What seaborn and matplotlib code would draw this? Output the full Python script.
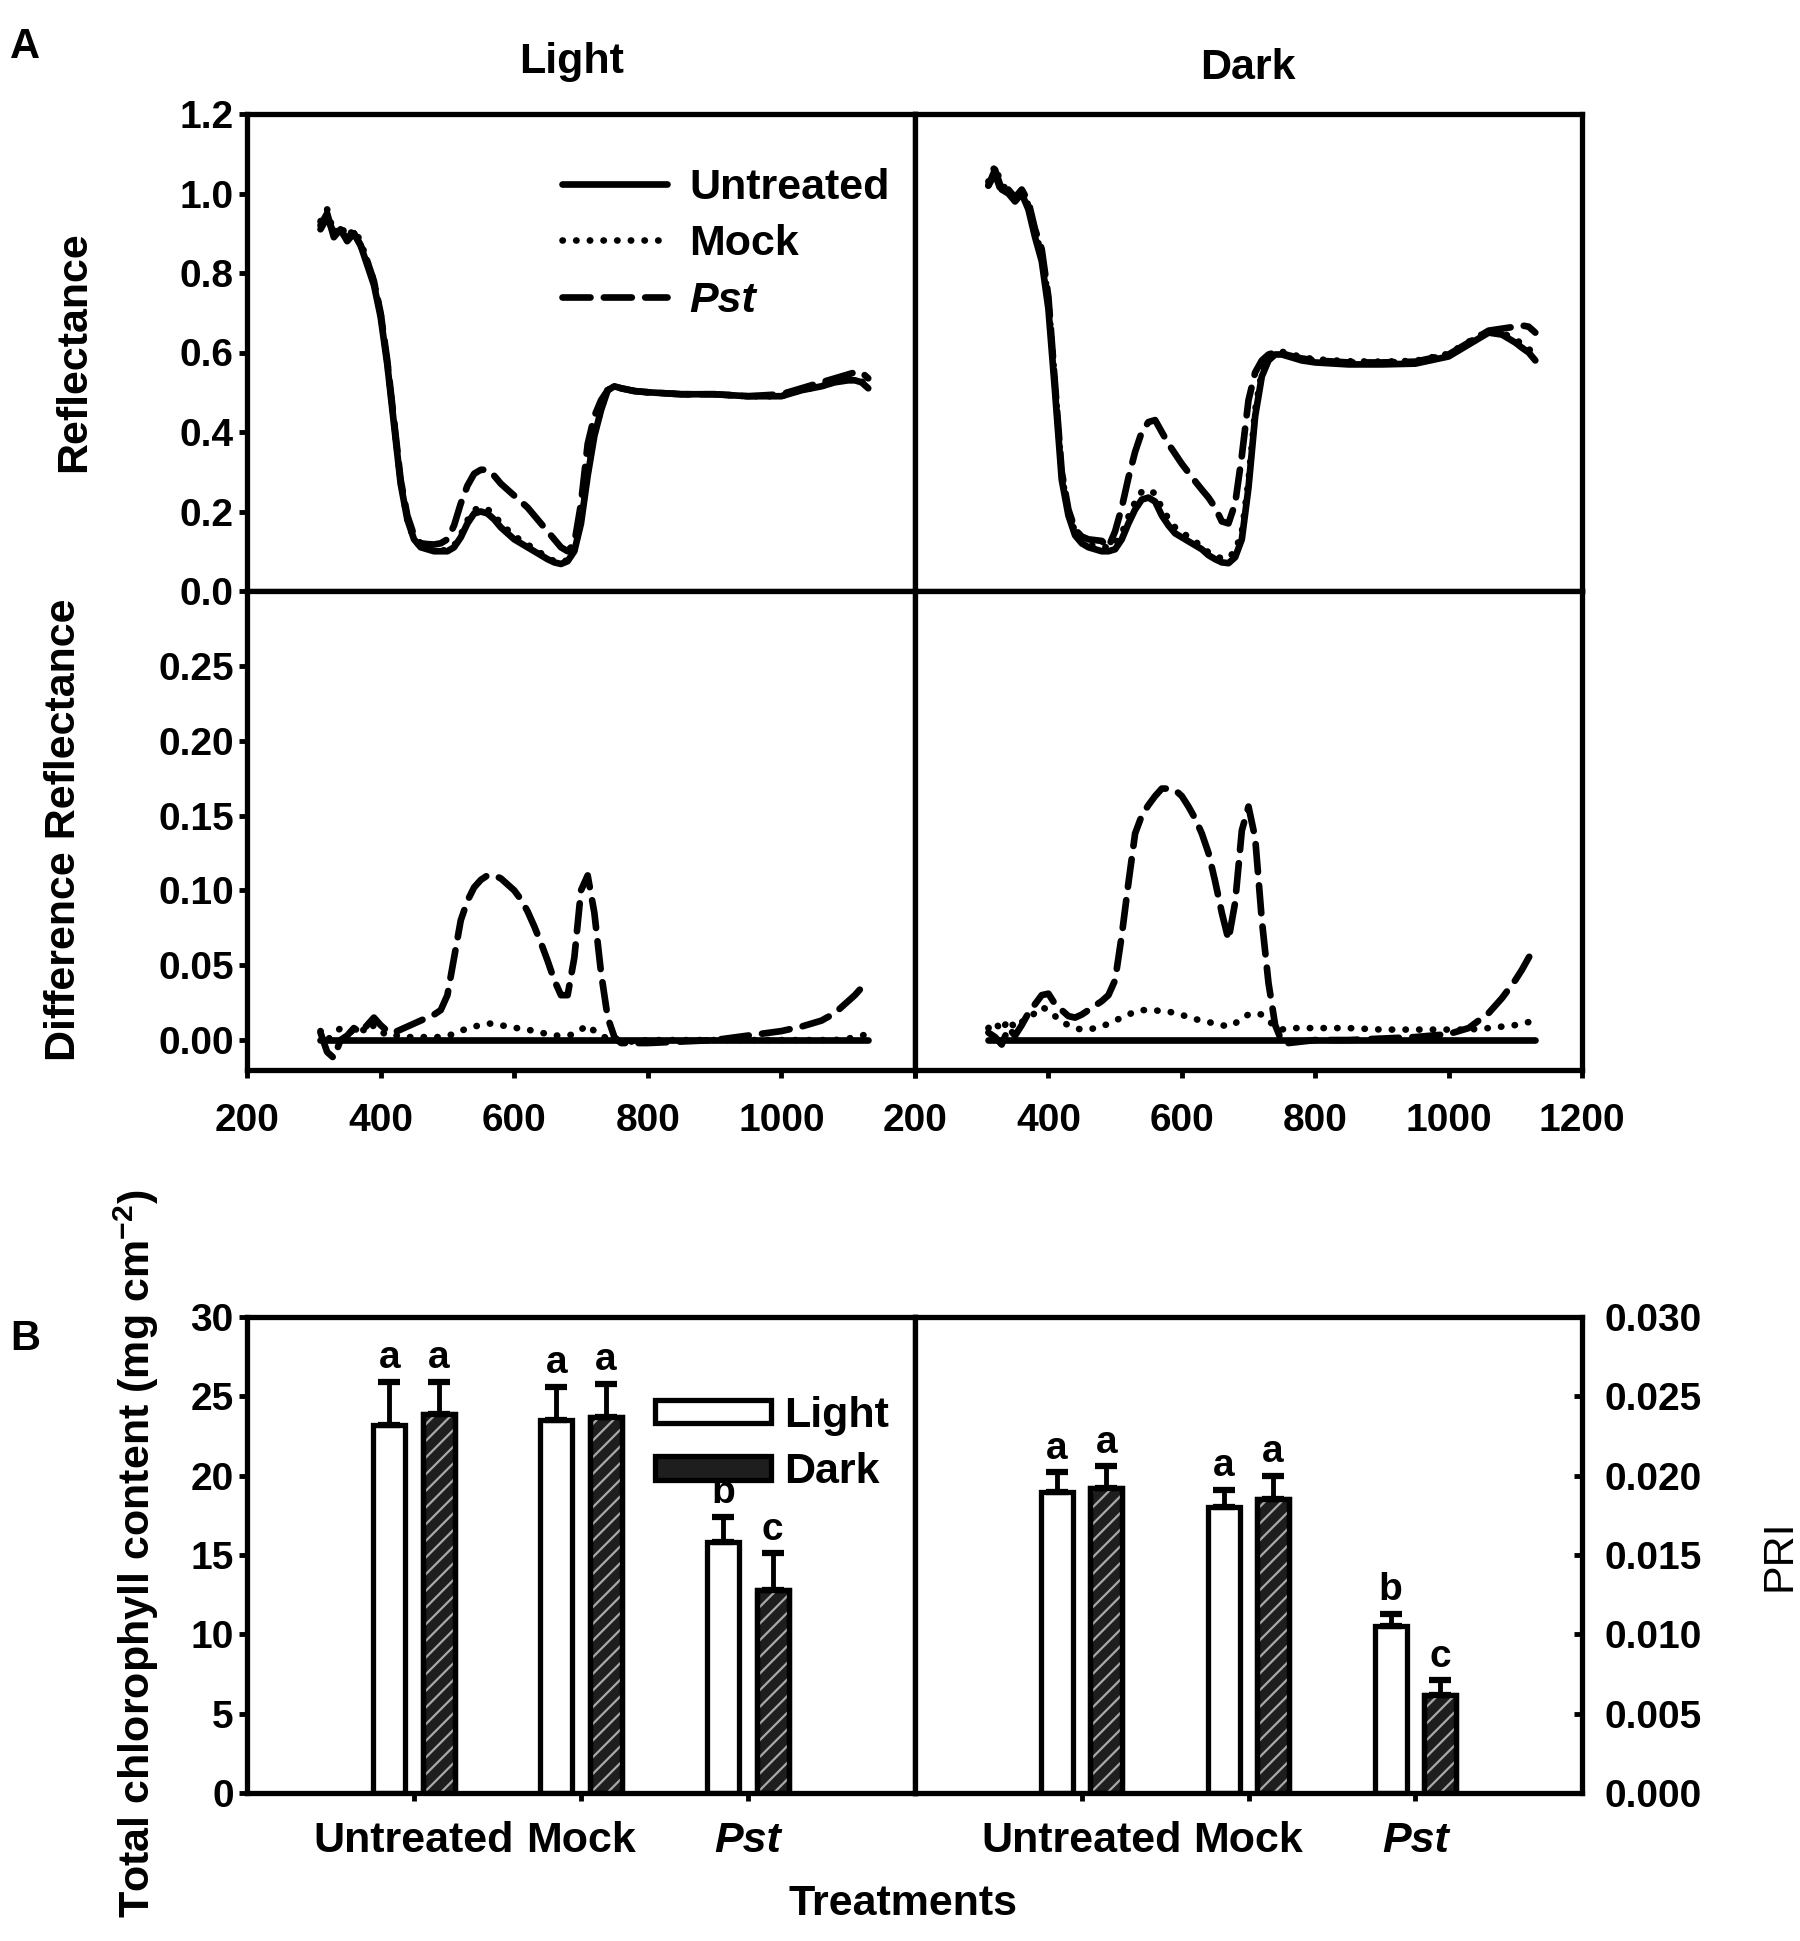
import numpy as np
import pandas as pd
import matplotlib.pyplot as plt
from matplotlib.lines import Line2D
from matplotlib.patches import Patch, Rectangle
from matplotlib.ticker import FormatStrFormatter
import seaborn as sns

# ---------------- data ----------------
wavelength = [310, 320, 330, 340, 350, 360, 370, 380, 390, 400,
              410, 420, 430, 440, 450, 460, 470, 480, 490, 500,
              510, 520, 530, 540, 550, 560, 570, 580, 590, 600,
              610, 620, 630, 640, 650, 660, 670, 680, 690, 700,
              710, 720, 730, 740, 750, 760, 780, 800, 850, 900,
              950, 1000, 1030, 1060, 1080, 1100, 1110, 1120, 1130]

# Panel A, reflectance (Light)
refl_light_untreated = [0.92, 0.95, 0.89, 0.91, 0.88, 0.90, 0.87, 0.82, 0.77, 0.69,
                        0.57, 0.42, 0.27, 0.18, 0.13, 0.11, 0.105, 0.10, 0.10, 0.10,
                        0.11, 0.135, 0.17, 0.195, 0.20, 0.195, 0.18, 0.16, 0.145, 0.13,
                        0.12, 0.11, 0.10, 0.09, 0.08, 0.072, 0.068, 0.075, 0.10, 0.17,
                        0.29, 0.39, 0.455, 0.505, 0.515, 0.51, 0.503, 0.50, 0.495, 0.495,
                        0.49, 0.49, 0.505, 0.515, 0.525, 0.53, 0.53, 0.525, 0.51]
refl_light_mock = [0.93, 0.96, 0.90, 0.92, 0.89, 0.91, 0.88, 0.83, 0.78, 0.70,
                   0.575, 0.425, 0.275, 0.18, 0.13, 0.112, 0.107, 0.102, 0.102, 0.103,
                   0.114, 0.141, 0.178, 0.204, 0.21, 0.206, 0.191, 0.17, 0.154, 0.138,
                   0.128, 0.117, 0.106, 0.095, 0.084, 0.075, 0.071, 0.078, 0.104, 0.177,
                   0.30, 0.396, 0.458, 0.506, 0.515, 0.51, 0.503, 0.50, 0.495, 0.495,
                   0.49, 0.49, 0.505, 0.515, 0.526, 0.532, 0.533, 0.528, 0.514]
refl_light_pst = [0.91, 0.94, 0.90, 0.90, 0.89, 0.90, 0.87, 0.83, 0.78, 0.70,
                  0.58, 0.43, 0.28, 0.19, 0.14, 0.12, 0.118, 0.117, 0.12, 0.13,
                  0.165, 0.22, 0.265, 0.295, 0.305, 0.305, 0.29, 0.27, 0.255, 0.24,
                  0.225, 0.21, 0.19, 0.17, 0.15, 0.13, 0.11, 0.10, 0.12, 0.22,
                  0.37, 0.44, 0.48, 0.505, 0.515, 0.51, 0.503, 0.50, 0.495, 0.495,
                  0.49, 0.495, 0.51, 0.525, 0.535, 0.545, 0.55, 0.55, 0.535]

# Panel A, reflectance (Dark)
refl_dark_untreated = [1.02, 1.06, 1.01, 1.00, 0.98, 1.00, 0.96, 0.89, 0.83, 0.71,
                       0.50, 0.28, 0.19, 0.14, 0.12, 0.11, 0.105, 0.10, 0.10, 0.105,
                       0.13, 0.17, 0.205, 0.23, 0.235, 0.225, 0.19, 0.165, 0.145, 0.135,
                       0.125, 0.115, 0.105, 0.09, 0.08, 0.072, 0.07, 0.085, 0.13, 0.26,
                       0.44, 0.54, 0.58, 0.595, 0.595, 0.59, 0.58, 0.575, 0.57, 0.57,
                       0.572, 0.59, 0.62, 0.65, 0.645, 0.625, 0.612, 0.60, 0.58]
refl_dark_mock = [1.03, 1.07, 1.02, 1.01, 0.99, 1.01, 0.97, 0.90, 0.85, 0.73,
                  0.52, 0.29, 0.20, 0.148, 0.127, 0.117, 0.113, 0.109, 0.111, 0.118,
                  0.145, 0.187, 0.224, 0.25, 0.255, 0.245, 0.209, 0.182, 0.16, 0.148,
                  0.136, 0.124, 0.113, 0.097, 0.088, 0.082, 0.083, 0.101, 0.148, 0.278,
                  0.456, 0.552, 0.588, 0.60, 0.602, 0.598, 0.588, 0.583, 0.578, 0.577,
                  0.579, 0.597, 0.627, 0.655, 0.65, 0.633, 0.622, 0.61, 0.59]
refl_dark_pst = [1.02, 1.05, 1.00, 1.01, 0.99, 1.01, 0.98, 0.91, 0.86, 0.74,
                 0.52, 0.30, 0.205, 0.155, 0.137, 0.13, 0.128, 0.126, 0.11, 0.15,
                 0.21, 0.285, 0.35, 0.40, 0.425, 0.43, 0.40, 0.37, 0.345, 0.32,
                 0.298, 0.276, 0.255, 0.235, 0.21, 0.175, 0.17, 0.22, 0.34, 0.48,
                 0.55, 0.58, 0.595, 0.60, 0.598, 0.593, 0.585, 0.58, 0.575, 0.575,
                 0.577, 0.595, 0.625, 0.655, 0.66, 0.665, 0.668, 0.665, 0.65]

# Panel A, difference reflectance (untreated is the zero baseline)
diff_untreated = [0.0] * len(wavelength)
diff_light_mock = [0.006, 0.0, 0.004, 0.008, 0.005, 0.006, 0.008, 0.005, 0.010, 0.006,
                   0.003, 0.003, 0.003, 0.002, 0.002, 0.002, 0.002, 0.002, 0.002, 0.003,
                   0.004, 0.006, 0.008, 0.009, 0.010, 0.011, 0.011, 0.010, 0.009, 0.008,
                   0.008, 0.007, 0.006, 0.005, 0.004, 0.003, 0.003, 0.003, 0.004, 0.007,
                   0.010, 0.006, 0.003, 0.001, 0.0, -0.001, -0.001, 0.0, 0.0, 0.0,
                   0.0, 0.0, 0.0, 0.0, 0.0, 0.001, 0.002, 0.003, 0.004]
diff_light_pst = [0.005, -0.008, -0.012, 0.0, 0.003, 0.008, 0.005, 0.010, 0.015, 0.010,
                  0.006, 0.005, 0.007, 0.009, 0.011, 0.013, 0.015, 0.017, 0.020, 0.030,
                  0.055, 0.080, 0.093, 0.102, 0.107, 0.110, 0.110, 0.108, 0.104, 0.100,
                  0.094, 0.086, 0.076, 0.065, 0.053, 0.040, 0.030, 0.030, 0.055, 0.100,
                  0.110, 0.085, 0.045, 0.015, 0.002, -0.002, -0.002, -0.002, -0.001, 0.0,
                  0.003, 0.006, 0.009, 0.013, 0.018, 0.026, 0.030, 0.035, 0.039]
diff_dark_mock = [0.008, 0.012, 0.006, 0.014, 0.008, 0.012, 0.015, 0.018, 0.022, 0.020,
                  0.016, 0.012, 0.010, 0.008, 0.007, 0.007, 0.008, 0.009, 0.011, 0.013,
                  0.015, 0.017, 0.019, 0.020, 0.020, 0.020, 0.019, 0.019, 0.018, 0.017,
                  0.015, 0.014, 0.013, 0.012, 0.011, 0.010, 0.009, 0.011, 0.015, 0.017,
                  0.018, 0.017, 0.013, 0.009, 0.007, 0.008, 0.008, 0.008, 0.008, 0.007,
                  0.007, 0.007, 0.007, 0.008, 0.009, 0.010, 0.011, 0.012, 0.012]
diff_dark_pst = [0.005, 0.002, -0.003, 0.008, 0.003, 0.010, 0.018, 0.024, 0.030, 0.031,
                 0.024, 0.020, 0.016, 0.015, 0.017, 0.020, 0.023, 0.026, 0.030, 0.040,
                 0.070, 0.105, 0.138, 0.150, 0.157, 0.163, 0.168, 0.168, 0.167, 0.163,
                 0.156, 0.148, 0.138, 0.125, 0.106, 0.085, 0.067, 0.092, 0.140, 0.156,
                 0.135, 0.080, 0.038, 0.010, -0.001, -0.002, -0.001, 0.0, 0.0, 0.001,
                 0.002, 0.004, 0.008, 0.018, 0.028, 0.040, 0.047, 0.055, 0.062]

# Panel B
treatments = ['Untreated', 'Mock', 'Pst']
chl_light = [23.2, 23.5, 15.8]
chl_light_err = [2.7, 2.1, 1.6]
chl_dark = [23.9, 23.7, 12.8]
chl_dark_err = [2.0, 2.1, 2.3]
pri_light = [0.0190, 0.0180, 0.0105]
pri_light_err = [0.0012, 0.0011, 0.0008]
pri_dark = [0.0192, 0.0185, 0.0062]
pri_dark_err = [0.0014, 0.0015, 0.0009]
letters_light = ['a', 'a', 'b']
letters_dark = ['a', 'a', 'c']

# ---------------- style ----------------
sns.set_style('ticks')
plt.rcParams['font.family'] = ['Liberation Sans', 'DejaVu Sans']
plt.rcParams['font.weight'] = 'bold'
plt.rcParams['text.color'] = 'black'
plt.rcParams['axes.labelcolor'] = 'black'
plt.rcParams['axes.edgecolor'] = 'black'
plt.rcParams['xtick.color'] = 'black'
plt.rcParams['ytick.color'] = 'black'
plt.rcParams['axes.linewidth'] = 3.8
plt.rcParams['lines.dash_capstyle'] = 'round'
plt.rcParams['lines.solid_capstyle'] = 'round'
plt.rcParams['hatch.linewidth'] = 1.6
plt.rcParams['mathtext.fontset'] = 'custom'
plt.rcParams['mathtext.rm'] = 'Liberation Sans:bold'
plt.rcParams['mathtext.default'] = 'rm'

W, H = 1800, 1941
fig = plt.figure(figsize=(W / 100, H / 100), dpi=100)


def box(x0, y0, x1, y1):
    return fig.add_axes([x0 / W, 1 - y1 / H, (x1 - x0) / W, (y1 - y0) / H])


LW = 4.8
dash_styles = {'Untreated': '', 'Mock': (0.05, 2.0), 'Pst': (4.2, 2.0)}


def spectra(ax, untreated, mock, pst):
    df = pd.DataFrame({
        'wl': wavelength * 3,
        'value': untreated + mock + pst,
        'treatment': ['Untreated'] * len(wavelength) + ['Mock'] * len(wavelength) + ['Pst'] * len(wavelength),
    })
    sns.lineplot(data=df, x='wl', y='value', style='treatment', style_order=treatments,
                 dashes=dash_styles, color='black', linewidth=LW, estimator=None,
                 legend=False, ax=ax)
    ax.set_xlim(200, 1200)
    ax.set_xlabel('')
    ax.set_ylabel('')
    ax.tick_params(width=3.5, length=6, labelsize=28)


axLt = box(247, 114, 915, 591)
axDt = box(915, 114, 1582, 591)
axLb = box(247, 591, 915, 1070)
axDb = box(915, 591, 1582, 1070)

spectra(axLt, refl_light_untreated, refl_light_mock, refl_light_pst)
spectra(axDt, refl_dark_untreated, refl_dark_mock, refl_dark_pst)
spectra(axLb, diff_untreated, diff_light_mock, diff_light_pst)
spectra(axDb, diff_untreated, diff_dark_mock, diff_dark_pst)

for ax in (axLt, axDt):
    ax.set_ylim(0, 1.2)
    ax.set_yticks(np.arange(0, 1.21, 0.2))
    ax.yaxis.set_major_formatter(FormatStrFormatter('%.1f'))
    ax.tick_params(axis='x', bottom=False, labelbottom=False)
for ax in (axLb, axDb):
    ax.set_ylim(-0.02, 0.30)
    ax.set_yticks(np.arange(0, 0.26, 0.05))
    ax.yaxis.set_major_formatter(FormatStrFormatter('%.2f'))
    ax.set_xticks(range(200, 1201, 200))
    ax.tick_params(axis='x', pad=18)
axLb.set_xticklabels(['200', '400', '600', '800', '1000', ''])
for ax in (axDt, axDb):
    ax.tick_params(axis='y', left=False, labelleft=False)

legend_styles = ['-', (0, dash_styles['Mock']), (0, dash_styles['Pst'])]
legend_handles = [Line2D([], [], color='black', linewidth=LW, linestyle=ls) for ls in legend_styles]
leg = fig.legend(legend_handles, treatments, loc='upper left', bbox_to_anchor=(562 / W, 1 - 168 / H),
                 frameon=False, fontsize=31, handlelength=2.45, handletextpad=0.5,
                 labelspacing=0.38, borderpad=0, borderaxespad=0)
leg.get_texts()[2].set_style('italic')

# ---------------- panel B ----------------
palette = {'Light': 'white', 'Dark': '#1e1e1e'}


def bars(ax, light, dark, light_err, dark_err):
    df = pd.DataFrame({
        'treatment': treatments * 2,
        'condition': ['Light'] * 3 + ['Dark'] * 3,
        'value': light + dark,
    })
    sns.barplot(data=df, x='treatment', y='value', hue='condition', order=treatments,
                hue_order=['Light', 'Dark'], palette=palette, saturation=1, width=0.59,
                gap=0.35, errorbar=None, legend=False, edgecolor='black', linewidth=3.8, ax=ax)
    # light hatch on the dark bars, then redraw their black outline
    for p in ax.containers[1]:
        ax.add_patch(Rectangle((p.get_x(), p.get_y()), p.get_width(), p.get_height(),
                               facecolor='none', edgecolor='#a8a8a8', hatch='//', linewidth=0,
                               zorder=p.get_zorder() + 0.1))
        ax.add_patch(Rectangle((p.get_x(), p.get_y()), p.get_width(), p.get_height(),
                               facecolor='none', edgecolor='black', linewidth=3.8,
                               zorder=p.get_zorder() + 0.2))
    for cont, vals, errs, letters in ((ax.containers[0], light, light_err, letters_light),
                                      (ax.containers[1], dark, dark_err, letters_dark)):
        xs = [p.get_x() + p.get_width() / 2 for p in cont]
        ax.errorbar(xs, vals, yerr=[np.zeros(len(vals)), errs], fmt='none', ecolor='black',
                    elinewidth=3.5, capsize=8, capthick=4.5, zorder=1)
        for x, v, e, s in zip(xs, vals, errs, letters):
            ax.annotate(s, (x, v + e), xytext=(0, 4), textcoords='offset points',
                        ha='center', va='bottom', fontsize=28, fontweight='bold')
    ax.set_xlim(-1, 3)
    ax.set_xlabel('')
    ax.set_ylabel('')
    ax.tick_params(axis='x', width=3.5, length=6, labelsize=31, pad=14)
    ax.get_xticklabels()[2].set_style('italic')


axB1 = box(247, 1317, 915, 1793)
axB2 = box(915, 1317, 1582, 1793)
bars(axB1, chl_light, chl_dark, chl_light_err, chl_dark_err)
bars(axB2, pri_light, pri_dark, pri_light_err, pri_dark_err)

axB1.set_ylim(0, 30)
axB1.set_yticks(range(0, 31, 5))
axB1.tick_params(axis='y', width=3.5, length=6, labelsize=28)

axB2.set_ylim(0, 0.03)
axB2.set_yticks(np.arange(0, 0.0301, 0.005))
axB2.yaxis.set_major_formatter(FormatStrFormatter('%.3f'))
axB2.yaxis.tick_right()
axB2.tick_params(axis='y', direction='in', width=3.5, length=6, labelsize=28, pad=16, left=False)

fig.legend([Patch(facecolor='white', edgecolor='black', linewidth=3.8),
            Patch(facecolor='#1e1e1e', edgecolor='black', linewidth=3.8)],
           ['Light', 'Dark'], loc='upper left', bbox_to_anchor=(655 / W, 1 - 1396 / H),
           frameon=False, fontsize=31, handlelength=2.7, handleheight=0.45,
           handletextpad=0.3, labelspacing=0.38, borderpad=0, borderaxespad=0)

# ---------------- texts ----------------
fig.text(25 / W, 1 - 47 / H, 'A', fontsize=30, ha='center', va='center')
fig.text(25 / W, 1 - 1339 / H, 'B', fontsize=30, ha='center', va='center')
fig.text(572 / W, 1 - 62 / H, 'Light', fontsize=31, ha='center', va='center')
fig.text(1248 / W, 1 - 68 / H, 'Dark', fontsize=31, ha='center', va='center')
fig.text(74 / W, 1 - 352 / H, 'Reflectance', fontsize=31, rotation=90, ha='center', va='center')
fig.text(64 / W, 1 - 830 / H, 'Difference Reflectance', fontsize=31, rotation=90, ha='center', va='center')
fig.text(136 / W, 1 - 1554 / H, r'Total chlorophyll content (mg cm$^{-2}$)', fontsize=31,
         rotation=90, ha='center', va='center')
fig.text(1780 / W, 1 - 1555 / H, 'PRI', fontsize=31, fontweight='normal', rotation=90, ha='center', va='center')
fig.text(903 / W, 1 - 1904 / H, 'Treatments', fontsize=31, ha='center', va='center')

fig.savefig('out.png', dpi=100)
